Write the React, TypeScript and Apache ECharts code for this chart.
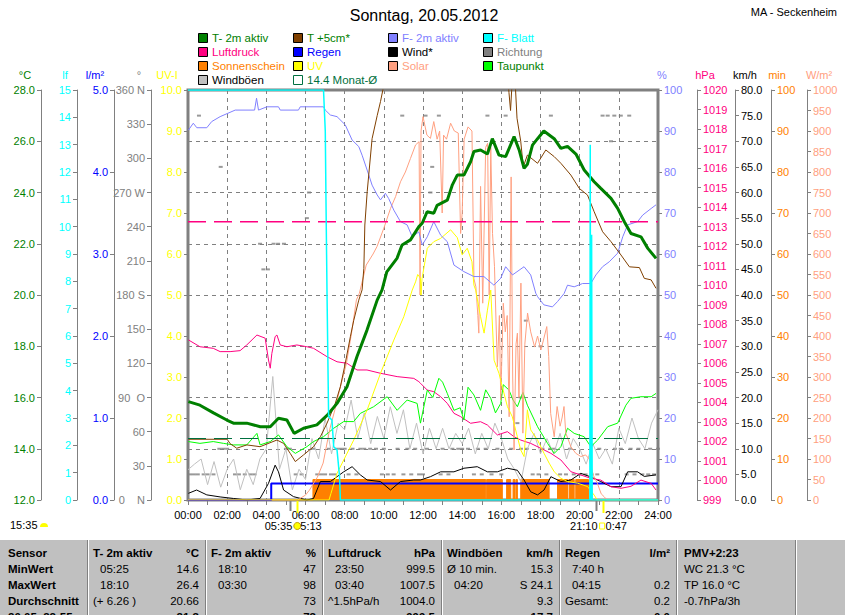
import React, { useEffect, useRef } from "react";
import * as echarts from "echarts";

// ---------- DATA (hours of day, value) ----------
const tempT2m: [number, number][] = [
  [0.02, 15.84], [0.61, 15.7], [1.3, 15.4], [1.98, 15.12], [2.32, 15.0], [3.0, 15.0], [3.69, 14.86], [4.2, 14.86],
  [4.62, 15.19], [5.05, 15.12], [5.42, 14.6], [5.9, 14.8], [6.58, 14.93], [7.1, 15.3], [7.61, 15.77], [8.12, 16.42],
  [8.63, 17.6], [9.14, 18.63], [9.66, 19.8], [9.91, 20.2], [10.15, 20.9], [10.67, 21.43], [10.93, 21.95], [11.36, 22.15],
  [11.79, 22.67], [11.96, 22.8], [12.21, 23.25], [12.55, 23.19], [12.72, 23.5], [13.24, 23.7], [13.5, 24.3], [13.75, 24.68],
  [14.09, 24.68], [14.43, 25.2], [14.6, 25.6], [14.94, 25.66], [15.29, 25.5], [15.54, 26.1], [15.88, 25.46], [16.22, 25.4],
  [16.65, 26.18], [16.91, 25.66], [17.16, 24.94], [17.33, 25.1], [17.59, 25.85], [17.85, 26.1], [18.17, 26.4], [18.7, 26.1],
  [19.04, 25.72], [19.38, 25.8], [19.81, 25.5], [20.23, 24.88], [20.74, 24.42], [21.08, 24.16], [21.6, 23.77], [21.94, 23.38],
  [22.28, 22.86], [22.62, 22.4], [23.13, 22.27], [23.48, 21.82], [23.9, 21.43],
];

const tempT5cm: [number, number][] = [
  [0.02, 14.37], [2.0, 14.37], [2.15, 14.2], [2.49, 14.02], [3.0, 14.15], [3.68, 14.08], [4.54, 14.34], [4.88, 14.21],
  [5.22, 13.82], [5.48, 13.5], [5.9, 13.76], [6.41, 14.08], [6.76, 14.47], [7.1, 15.0], [7.52, 15.77], [7.78, 16.42],
  [8.03, 17.33], [8.29, 18.37], [8.46, 19.0], [8.72, 19.8], [8.89, 20.2], [8.98, 21.04], [9.03, 22.73], [9.15, 24.03],
  [9.4, 26.1], [9.66, 27.0], [9.83, 27.55], [9.95, 28.0], [10.5, 30.5], [11.5, 33], [12.5, 34.5], [13.5, 35],
  [14.5, 34], [15.5, 32], [16.2, 29.5], [16.39, 27.9], [16.47, 27.2], [16.55, 28.3], [16.7, 28.4], [16.8, 26.9],
  [16.99, 26.0], [17.12, 25.0], [17.33, 25.46], [17.85, 25.14], [18.27, 25.66], [18.7, 25.4], [19.04, 25.14], [19.55, 24.68],
  [19.98, 24.16], [20.4, 23.9], [20.74, 23.25], [21.17, 22.47], [21.6, 22.08], [22.11, 21.56], [22.54, 21.1], [23.05, 21.07],
  [23.3, 20.65], [23.65, 20.59], [23.9, 20.26],
];

const humidity: [number, number][] = [
  [0.02, 90.2], [0.27, 91.9], [0.45, 90.8], [0.96, 90.8], [1.21, 92.3], [1.64, 93.5], [2.41, 95.1], [3.4, 95.1],
  [3.5, 98], [3.6, 95.1], [4.03, 95.9], [4.62, 95.9], [4.71, 95.1], [5.64, 95.1], [5.73, 95.9], [6.92, 95.9],
  [7.01, 95.1], [7.27, 93.9], [7.61, 93.5], [8.03, 91.5], [8.38, 87.8], [8.72, 86.2], [8.89, 84.1], [9.06, 81.7],
  [9.23, 79.3], [9.4, 76.8], [9.66, 74.4], [9.83, 73.2], [10.08, 74.8], [10.25, 73.5], [10.51, 70.7], [10.85, 67.9],
  [11.19, 67.1], [11.45, 64.2], [11.79, 65.4], [11.96, 62.2], [12.22, 64.2], [12.55, 67.9], [12.9, 64.6], [13.24, 63],
  [13.58, 57.3], [14.09, 55.7], [14.6, 54.5], [15.11, 54.5], [15.62, 52.4], [15.97, 54.1], [16.22, 56.9], [16.57, 54.9],
  [17.16, 56.9], [17.5, 54.9], [17.76, 50.4], [17.85, 49.6], [18.17, 47.6], [18.61, 47.1], [18.87, 48.4], [19.21, 50.4],
  [19.38, 52.4], [19.72, 52], [20.15, 52.8], [20.57, 52.8], [20.83, 54.9], [21.17, 56.9], [21.51, 58.1], [21.94, 60.2],
  [22.2, 64.2], [22.45, 67.1], [22.96, 67.9], [23.22, 69.5], [23.65, 71.1], [23.9, 72],
];

const leafWetness: [number, number][] = [
  [0, 15], [6.92, 15], [7.01, 13.5], [7.05, 10.7], [7.1, 7.5], [7.18, 3.05], [7.35, 2.93], [7.44, 1.95],
  [7.61, 1.83], [7.74, 0.85], [7.78, 0], [20.52, 0], [20.54, 13.0], [20.56, 0], [20.6, 0], [20.61, 9.7],
  [20.64, 0], [24, 0],
];

const pressure: [number, number][] = [
  [0.02, 1007.2], [0.61, 1006.85], [1.29, 1006.77], [1.64, 1006.6], [2.15, 1006.6], [2.66, 1006.65], [3.0, 1006.94], [3.52, 1007.45],
  [3.94, 1007.29], [4.11, 1006.17], [4.2, 1005.75], [4.28, 1006.5], [4.45, 1007.37], [4.54, 1007.45], [4.71, 1006.94], [5.05, 1006.85],
  [5.56, 1006.94], [6.07, 1006.85], [6.41, 1006.77], [7.1, 1006.34], [7.61, 1006.08], [8.12, 1006.0], [8.63, 1005.66], [9.14, 1005.66],
  [9.83, 1005.49], [10.68, 1005.32], [11.53, 1005.23], [11.79, 1005.06], [11.87, 1004.98], [12.22, 1004.63], [12.55, 1004.55], [12.9, 1004.29],
  [13.24, 1003.95], [13.58, 1003.44], [13.92, 1003.27], [14.43, 1002.93], [14.94, 1003.01], [15.29, 1002.84], [15.8, 1002.33], [16.31, 1002.5],
  [16.65, 1002.24], [16.99, 1002.07], [17.5, 1001.9], [18.01, 1001.65], [18.53, 1001.39], [19.04, 1001.05], [19.55, 1000.45], [20.06, 1000.28],
  [20.57, 1000.11], [21.08, 1000.02], [21.6, 999.68], [22.11, 999.6], [22.62, 999.7], [23.13, 1000.02], [23.65, 999.85], [23.9, 999.51],
];

const gusts: [number, number][] = [
  [0, 5.9], [0.33, 7], [0.67, 8], [1, 3], [1.33, 7.5], [1.67, 2.5], [2, 6], [2.33, 8], [2.67, 2], [3, 6], [3.33, 3],
  [3.67, 8], [4, 10], [4.33, 24.1], [4.67, 6], [5, 10], [5.33, 2], [5.67, 6], [6, 4], [6.33, 12], [6.67, 8], [7, 16],
  [7.33, 9], [7.67, 15], [8, 13.7], [8.33, 19.5], [8.67, 12], [9, 17], [9.33, 11], [9.67, 16.3], [10, 12], [10.33, 18.2],
  [10.67, 13], [11, 17.6], [11.33, 10], [11.67, 15], [12, 9], [12.33, 14], [12.67, 10], [13, 14], [13.33, 10], [13.67, 13],
  [14, 11], [14.33, 14], [14.67, 9], [15, 13], [15.33, 10], [15.67, 15], [16, 12], [16.33, 8], [16.67, 6], [17, 3.5],
  [17.33, 10], [17.67, 13], [18, 9], [18.33, 12], [18.67, 9], [19, 13], [19.33, 8], [19.67, 12], [20, 10], [20.33, 7],
  [20.67, 11], [21, 8], [21.33, 10], [21.67, 7], [22, 14], [22.33, 11], [22.67, 16], [23, 12], [23.33, 10], [23.67, 15],
  [24, 17.6],
];

const wind: [number, number][] = [
  [0.02, 1.3], [0.44, 1.95], [0.96, 1], [1.64, 0.6], [2.32, 0.3], [3.0, 0], [3.68, 0.3], [4.11, 3.25], [4.45, 6.8],
  [4.62, 5.5], [4.88, 1.95], [5.39, 0.65], [6.07, 0], [6.41, 0.3], [6.76, 3.6], [7.27, 3.6], [7.61, 4.55], [7.95, 5.5],
  [8.38, 6.5], [8.8, 4.9], [9.15, 3.9], [9.83, 3.6], [10.34, 1.95], [10.85, 3.6], [11.53, 3.9], [11.87, 3.9], [12.38, 4.55],
  [12.9, 5.5], [13.58, 5.5], [14.09, 6.2], [14.77, 6.5], [15.29, 5.5], [15.8, 5.5], [16.31, 6.2], [16.82, 5.8], [17.16, 3.9],
  [17.5, 1.6], [17.85, 1.0], [18.18, 1.95], [18.53, 4.55], [19.04, 3.6], [19.55, 3.9], [20.06, 5.2], [20.57, 4.5], [21.08, 3.6],
  [21.6, 2.6], [22.11, 2.6], [22.45, 5.5], [22.96, 5.5], [23.3, 4.6], [23.9, 4.9],
];

const dewPoint: [number, number][] = [
  [0.02, 14.28], [0.61, 14.21], [1.29, 14.28], [1.81, 14.21], [2.32, 14.15], [3.0, 14.15], [3.52, 14.6], [3.68, 14.15],
  [4.2, 14.28], [4.62, 14.54], [5.05, 14.08], [5.48, 13.82], [6.07, 14.08], [6.41, 14.28], [6.92, 14.47], [7.44, 14.8],
  [7.95, 15.06], [8.46, 15.06], [8.8, 15.38], [9.48, 15.64], [10.17, 16.03], [10.68, 15.5], [11.19, 15.9], [11.7, 15.77],
  [11.87, 15.0], [12.22, 16.29], [12.5, 16.0], [12.81, 16.75], [13.0, 16.6], [13.24, 16.16], [13.58, 15.5], [13.9, 15.6],
  [14.09, 15.12], [14.3, 16.4], [14.6, 16.1], [14.94, 15.5], [15.2, 16.3], [15.46, 15.97], [15.7, 15.4], [15.97, 15.77],
  [16.1, 16.5], [16.39, 16.29], [16.6, 15.9], [16.82, 15.64], [17.1, 16.2], [17.33, 15.7], [17.85, 14.86], [18.36, 14.21],
  [18.7, 13.82], [19.04, 14.08], [19.38, 14.8], [19.72, 14.6], [20.23, 14.47], [20.57, 14.08], [20.92, 14.34], [21.43, 14.86],
  [21.94, 15.0], [22.36, 15.7], [22.62, 15.97], [23.13, 16.03], [23.65, 16.03], [23.9, 16.16],
];

const uvIndex: [number, number][] = [
  [0, 0], [7.2, 0], [7.3, 0.16], [7.61, 0.65], [8.46, 1.46], [9.15, 2.2], [9.83, 3.09], [10.51, 3.9], [11.02, 4.47],
  [11.45, 5.12], [11.62, 5.32], [11.73, 5.5], [11.87, 5.41], [11.9, 5.0], [11.95, 5.4], [12.22, 6.14], [12.55, 6.3],
  [12.9, 6.38], [13.41, 6.59], [13.75, 6.4], [14.0, 5.98], [14.26, 6.14], [14.5, 5.81], [14.6, 5.24], [14.69, 5.12],
  [14.94, 4.47], [15.12, 4.07], [15.29, 4.63], [15.46, 5.12], [15.63, 3.41], [15.88, 3.09], [16.05, 2.76], [16.31, 2.28],
  [16.56, 2.03], [16.82, 1.54], [16.99, 1.22], [17.16, 1.06], [17.33, 2.2], [17.5, 1.71], [17.85, 1.46], [18.18, 1.14],
  [18.44, 0.9], [18.7, 0.69], [19.04, 0.53], [19.38, 0.45], [19.89, 0.41], [20.4, 0.33], [20.74, 0.12], [20.9, 0], [24, 0],
];

const solar: [number, number][] = [
  [0, 0], [5.6, 0], [6.0, 12], [6.2, 24], [6.6, 55], [6.9, 90], [7.23, 171], [7.5, 220], [7.74, 268], [8.09, 333],
  [8.35, 407], [8.6, 488], [8.75, 504], [9.1, 573], [9.45, 600], [9.65, 618], [10.0, 663], [10.34, 711], [10.6, 740],
  [10.85, 776], [11.1, 800], [11.36, 833], [11.62, 866], [11.8, 874], [11.85, 500], [11.9, 900], [12.0, 935], [12.2, 890],
  [12.38, 882], [12.55, 923], [12.72, 880], [12.85, 900], [12.98, 700], [13.05, 890], [13.2, 880], [13.41, 919], [13.6, 900],
  [13.8, 895], [13.92, 650], [14.0, 700], [14.1, 880], [14.3, 910], [14.5, 900], [14.6, 540], [14.7, 520], [14.8, 450],
  [14.85, 407], [14.94, 765], [15.05, 480], [15.2, 860], [15.3, 870], [15.38, 500], [15.46, 860], [15.55, 650], [15.65, 570],
  [15.75, 400], [15.8, 325], [15.9, 450], [15.97, 244], [16.1, 480], [16.2, 410], [16.3, 450], [16.4, 203], [16.5, 788],
  [16.58, 300], [16.65, 122], [16.75, 380], [16.82, 407], [16.9, 250], [17.0, 529], [17.1, 163], [17.2, 380], [17.34, 456],
  [17.5, 410], [17.7, 373], [17.85, 400], [18.02, 366], [18.15, 390], [18.32, 423], [18.42, 350], [18.52, 211], [18.7, 154],
  [18.85, 228], [19.0, 180], [19.1, 200], [19.2, 228], [19.29, 163], [19.4, 150], [19.55, 130], [19.8, 114], [20.06, 106],
  [20.3, 110], [20.49, 100], [20.7, 60], [20.9, 41], [21.1, 15], [21.25, 8], [21.4, 0], [24, 0],
];

// sunshine minutes per interval; each value holds until the next time
const sunshine: [number, number][] = [
  [0, 0], [6.38, 5], [15.2, 0], [15.25, 5], [16.05, 0], [16.27, 5], [16.48, 0], [16.6, 5], [16.7, 0], [16.75, 5],
  [16.82, 0], [16.99, 5], [18.44, 0], [18.87, 5], [19.38, 0], [19.46, 5], [19.72, 0], [19.8, 5], [20.45, 0], [24, 0],
];

const rain: [number, number][] = [[0, 0], [4.25, 0], [4.25, 0.2], [24, 0.2]];

// wind direction (degrees)
const dirNNEHours = [0.1, 0.3, 0.5, 0.8, 1.0, 1.3, 2.4, 2.6, 2.9, 3.2, 3.4, 5.5, 5.8, 6.6, 6.8, 7.0, 7.3, 7.5, 8.2, 8.6, 9.9,
  10.2, 10.5, 11.0, 11.4, 11.8, 12.0, 12.9, 13.3, 14.6, 15.0, 15.5, 16.0, 17.6, 17.9, 18.3, 19.0, 19.3, 19.7, 20.0, 20.3, 20.6,
  20.9, 22.4, 22.8, 23.2, 23.5, 23.8];
const dirNEHours = [1.6, 1.8, 2.0, 5.0, 5.2, 6.4, 7.2, 7.6, 7.8, 8.0, 8.4, 8.8, 9.0, 9.3, 9.6, 10.0, 10.7, 11.2, 11.6, 12.2,
  13.0, 13.5, 13.8, 14.0, 14.3, 14.8, 15.2, 15.8, 16.5, 17.0, 17.3, 18.1, 18.5, 18.7, 19.5, 21.0, 21.8, 22.1, 22.6, 23.0, 23.6, 24.0];
const dirOther: [number, number][] = [
  [0.56, 337.5], [1.67, 292.5], [3.68, 225], [3.85, 202.5], [4.08, 202.5], [4.37, 225], [4.6, 225], [4.9, 225],
  [6.07, 247.5], [6.18, 270], [10.94, 337.5], [12.13, 337.5], [12.81, 337.5], [12.47, 292.5], [12.38, 270], [15.29, 337.5],
  [16.22, 337.5], [16.82, 67.5], [16.99, 90], [17.25, 157.5], [18.0, 135], [18.53, 337.5], [21.17, 337.5], [21.43, 337.5],
  [21.6, 315], [21.77, 337.5], [22.1, 337.5], [22.53, 337.5],
];

const monthAvgTemp = 14.4;
const stdPressure = 1013.25;

const sunriseH = 5.58;
const dawnH = 5.22;
const sunsetH = 21.17;
const duskH = 20.85;

// table
const tableRows = ["Sensor", "MinWert", "MaxWert", "Durchschnitt", "20.05. 22:55"];
const tableCols = [
  { head: "T- 2m aktiv", unit: "°C", left: ["05:25", "18:10", "(+ 6.26 )"], right: ["14.6", "26.4", "20.66"], last: "21.3" },
  { head: "F- 2m aktiv", unit: "%", left: ["18:10", "03:30", ""], right: ["47", "98", "73"], last: "73" },
  { head: "Luftdruck", unit: "hPa", left: ["23:50", "03:40", "^1.5hPa/h"], right: ["999.5", "1007.5", "1004.0"], last: "999.5" },
  { head: "Windböen", unit: "km/h", left: ["Ø 10 min.", "04:20", ""], right: ["15.3", "S 24.1", "9.3"], last: "17.7" },
  { head: "Regen", unit: "l/m²", left: ["7:40 h", "04:15", "Gesamt:"], right: ["", "0.2", "0.2"], last: "0.0" },
];
const pmvCol = ["PMV+2:23", "WC 21.3 °C", "TP 16.0 °C", "-0.7hPa/3h"];

const legendItems = [
  { name: "T- 2m aktiv", color: "#008000", text: "#008000" },
  { name: "Luftdruck", color: "#ff0080", text: "#ff0080" },
  { name: "Sonnenschein", color: "#ff8000", text: "#ff8000" },
  { name: "Windböen", color: "#c0c0c0", text: "#000000" },
  { name: "T +5cm*", color: "#804000", text: "#008000" },
  { name: "Regen", color: "#0000ff", text: "#0000ff" },
  { name: "UV", color: "#ffff00", text: "#ffff00" },
  { name: "14.4 Monat-Ø", color: "none", text: "#007040" },
  { name: "F- 2m aktiv", color: "#8080ff", text: "#8080ff" },
  { name: "Wind*", color: "#000000", text: "#000000" },
  { name: "Solar", color: "#ffa080", text: "#ffa080" },
  { name: "F- Blatt", color: "#00ffff", text: "#00ffff" },
  { name: "Richtung", color: "#808080", text: "#808080" },
  { name: "Taupunkt", color: "#00ff00", text: "#008000" },
];

const FONT = "'Liberation Sans', Arial, sans-serif";
const GRAY = "#808080";

function yAxis(o: any) {
  return {
    type: "value",
    position: o.pos,
    offset: o.offset,
    min: o.min,
    max: o.max,
    interval: o.interval,
    axisLine: { show: true, onZero: false, lineStyle: { color: GRAY, width: 1 } },
    axisTick: { show: true, length: 4, lineStyle: { color: GRAY } },
    axisLabel: { color: o.color, fontSize: 11, fontFamily: FONT, margin: 6, formatter: o.fmt },
    splitLine: o.split
      ? { show: true, lineStyle: { color: GRAY, type: [4, 4], width: 1 } }
      : { show: false },
  };
}

const dirNames: Record<number, string> = { 0: "0    N", 90: "90  O", 180: "180 S", 270: "270 W", 360: "360 N" };

function line(name: string, data: any, yi: number, color: string, width = 1, extra: any = {}) {
  return {
    name, type: "line", data, yAxisIndex: yi, xAxisIndex: 0, showSymbol: false, symbol: "none",
    silent: true, lineStyle: { color, width }, itemStyle: { color }, ...extra,
  };
}

export default function App() {
  const ref = useRef<HTMLDivElement>(null);
  useEffect(() => {
    const el = ref.current!;
    const chart = echarts.init(el, null, { renderer: "svg" });
    const dirData: [number, number][] = [
      ...dirNNEHours.map((h) => [h, 22.5] as [number, number]),
      ...dirNEHours.map((h) => [h, 45] as [number, number]),
      ...dirOther,
    ];
    chart.setOption({
      animation: false,
      backgroundColor: "#ffffff",
      textStyle: { fontFamily: FONT },
      grid: {
        left: 188, right: 187, top: 90, bottom: 115, show: true, borderColor: GRAY, borderWidth: 3,
        backgroundColor: "#ffffff", containLabel: false, outerBoundsMode: "none",
      },
      xAxis: {
        type: "value", min: 0, max: 24, interval: 2,
        axisLine: { show: true, lineStyle: { color: GRAY } },
        axisTick: { show: true, length: 5, lineStyle: { color: GRAY } },
        minorTick: { show: true, splitNumber: 2, length: 5, lineStyle: { color: GRAY } },
        axisLabel: {
          color: "#000", fontSize: 11, fontFamily: FONT, margin: 9,
          formatter: (v: number) => String(v).padStart(2, "0") + ":00",
        },
        splitLine: { show: true, lineStyle: { color: GRAY, type: [4, 4] } },
      },
      yAxis: [
        yAxis({ pos: "left", offset: 147, min: 12, max: 28, interval: 2, color: "#008000", fmt: (v: number) => v.toFixed(1), split: true }),
        yAxis({ pos: "left", offset: 111, min: 0, max: 15, interval: 1, color: "#00ffff", fmt: (v: number) => String(v) }),
        yAxis({ pos: "left", offset: 74, min: 0, max: 5, interval: 1, color: "#0000ff", fmt: (v: number) => v.toFixed(1) }),
        yAxis({ pos: "left", offset: 37, min: 0, max: 360, interval: 30, color: GRAY, fmt: (v: number) => dirNames[v] ?? String(v) }),
        yAxis({ pos: "left", offset: 0, min: 0, max: 10, interval: 1, color: "#ffff00", fmt: (v: number) => v.toFixed(1) }),
        yAxis({ pos: "right", offset: 0, min: 0, max: 100, interval: 10, color: "#8080ff", fmt: (v: number) => String(v) }),
        yAxis({ pos: "right", offset: 39, min: 999, max: 1020, interval: 1, color: "#ff0080", fmt: (v: number) => String(v) }),
        yAxis({ pos: "right", offset: 77, min: 0, max: 80, interval: 5, color: "#000000", fmt: (v: number) => v.toFixed(1) }),
        yAxis({ pos: "right", offset: 113, min: 0, max: 100, interval: 10, color: "#ff8000", fmt: (v: number) => String(v) }),
        yAxis({ pos: "right", offset: 149, min: 0, max: 1000, interval: 50, color: "#ffa080", fmt: (v: number) => String(v) }),
      ],
      series: [
        line("Sonnenschein", sunshine, 8, "#ff8000", 1, { step: "end", areaStyle: { color: "#ff8000", opacity: 1 } }),
        line("Windböen", gusts, 7, "#c0c0c0", 1),
        {
          name: "Richtung", type: "scatter", data: dirData, yAxisIndex: 3, xAxisIndex: 0, silent: true,
          symbol: "rect", symbolSize: [4, 2], itemStyle: { color: GRAY },
        },
        line("Regen", rain, 2, "#0000ff", 2),
        line("Wind*", wind, 7, "#000000", 1),
        line("Luftdruck", pressure, 6, "#ff0080", 1),
        line("Taupunkt", dewPoint, 0, "#00ff00", 1),
        line("Solar", solar, 9, "#ffa080", 1),
        line("UV", uvIndex, 4, "#ffff00", 1),
        line("F- 2m aktiv", humidity, 5, "#8080ff", 1),
        line("T +5cm*", tempT5cm, 0, "#804000", 1),
        line("14.4 Monat-Ø", [[0, monthAvgTemp], [24, monthAvgTemp]], 0, "#007040", 1, { lineStyle: { color: "#007040", width: 1, type: [18, 8] } }),
        line("Normaldruck", [[0, stdPressure], [24, stdPressure]], 6, "#ff0080", 1, { lineStyle: { color: "#ff0080", width: 1.5, type: [18, 8] } }),
        line("T- 2m aktiv", tempT2m, 0, "#008000", 3),
        line("F- Blatt", leafWetness, 1, "#00ffff", 1.5),
      ],
    });

    const px = (h: number) => chart.convertToPixel({ xAxisIndex: 0 }, h) as number;
    const g: any[] = [];
    const txt = (text: string, x: number, y: number, fill: string, size = 11, align = "left", weight = "normal") =>
      g.push({
        type: "text", x, y, silent: true, z: 100,
        style: { text, fill, fontSize: size, fontFamily: FONT, fontWeight: weight, align, verticalAlign: "middle" },
      });

    // title
    txt("Sonntag, 20.05.2012", 424, 15, "#000", 16, "center");
    txt("MA - Seckenheim", 837, 12, "#000", 11, "right");

    // legend
    const colX = [198, 293, 388, 483];
    const rowY = [38, 52, 66, 80];
    const perCol = [4, 4, 3, 3];
    let k = 0;
    perCol.forEach((n, c) => {
      for (let r = 0; r < n; r++) {
        const it = legendItems[k++];
        const x = colX[c];
        const y = rowY[r];
        g.push({
          type: "rect", silent: true, z: 100,
          shape: { x: x + 0.5, y: y - 4.5, width: 9, height: 9 },
          style: it.color === "none"
            ? { fill: "none", stroke: it.text, lineWidth: 1 }
            : { fill: it.color, stroke: "#000", lineWidth: 1 },
        });
        txt(it.name, x + 14, y, it.text, 11.5);
      }
    });

    // axis titles
    const axisTitles: [string, number, string][] = [
      ["°C", 25, "#008000"], ["lf", 65, "#00ffff"], ["l/m²", 95, "#0000ff"], ["°", 139, GRAY], ["UV-I", 167, "#ffff00"],
      ["%", 662, "#8080ff"], ["hPa", 705, "#ff0080"], ["km/h", 745, "#000000"], ["min", 777, "#ff8000"], ["W/m²", 819, "#ffa080"],
    ];
    axisTitles.forEach(([t, x, c]) => txt(t, x, 75, c, 11, "center"));

    // sunrise / sunset markers below the time axis
    const marks: [number, string, number][] = [[dawnH, GRAY, 10], [sunriseH, "#ffff00", 12], [duskH, GRAY, 10], [sunsetH, "#ffff00", 12]];
    marks.forEach(([h, c, len]) => {
      const x = Math.round(px(h)) + 0.5;
      g.push({ type: "line", silent: true, z: 100, shape: { x1: x, y1: 501, x2: x, y2: 501 + len }, style: { stroke: c, lineWidth: 2 } });
    });
    const xr = px(sunriseH);
    txt("05:35", xr - 5, 526, "#000", 11, "right");
    g.push({ type: "circle", silent: true, z: 100, shape: { cx: xr, cy: 526, r: 3.5 }, style: { fill: "#ffff00", stroke: "#c0a000", lineWidth: 1 } });
    txt("5:13", xr + 3, 526, "#000", 11, "left");
    const xs = px(sunsetH);
    txt("21:10", xs - 5, 526, "#000", 11, "right");
    g.push({ type: "rect", silent: true, z: 100, shape: { x: xs - 3, y: 523, width: 5, height: 6 }, style: { fill: "#fff", stroke: "#ffff00", lineWidth: 1 } });
    txt("0:47", xs + 3, 526, "#000", 11, "left");
    txt("15:35", 10, 525, "#000", 11, "left");
    g.push({ type: "sector", silent: true, z: 100, shape: { cx: 44, cy: 527, r: 4, startAngle: Math.PI, endAngle: Math.PI * 2 }, style: { fill: "#ffff00" } });

    // table
    g.push({ type: "rect", silent: true, z: 90, shape: { x: 0, y: 539, width: 845, height: 80 }, style: { fill: "#c0c0c0" } });
    g.push({ type: "line", silent: true, z: 91, shape: { x1: 0, y1: 539.5, x2: 845, y2: 539.5 }, style: { stroke: "#ffffff", lineWidth: 1 } });
    const sepX = [87, 205, 322, 441, 559, 676, 795];
    sepX.forEach((x) => {
      g.push({ type: "line", silent: true, z: 91, shape: { x1: x + 0.5, y1: 540, x2: x + 0.5, y2: 615 }, style: { stroke: GRAY, lineWidth: 1 } });
      g.push({ type: "line", silent: true, z: 91, shape: { x1: x + 1.5, y1: 540, x2: x + 1.5, y2: 615 }, style: { stroke: "#ffffff", lineWidth: 1 } });
    });
    const rowYs = [553, 569, 585, 601, 617];
    tableRows.forEach((r, i) => txt(r, 8, rowYs[i], "#000", 11.5, "left", "bold"));
    tableCols.forEach((c, i) => {
      const l = sepX[i] + 6;
      const rr = sepX[i + 1] - 6;
      txt(c.head, l, rowYs[0], "#000", 11.5, "left", "bold");
      txt(c.unit, rr, rowYs[0], "#000", 11.5, "right", "bold");
      c.left.forEach((s, j) => {
        if (s) txt(s, /^\d/.test(s) ? l + 7 : l, rowYs[j + 1], "#000", 11.5, "left");
      });
      c.right.forEach((s, j) => {
        if (s) txt(s, rr, rowYs[j + 1], "#000", 11.5, "right");
      });
      txt(c.last, rr, rowYs[4], "#000", 11.5, "right", "bold");
    });
    pmvCol.forEach((s, j) => txt(s, sepX[5] + 8, rowYs[j], "#000", 11.5, "left", j === 0 ? "bold" : "normal"));

    chart.setOption({ graphic: { elements: g } });
    return () => chart.dispose();
  }, []);
  return (
    <div
      ref={ref}
      style={{ position: "absolute", left: 0, top: 0, width: 845, height: 615, background: "#fff", overflow: "hidden" }}
    />
  );
}
